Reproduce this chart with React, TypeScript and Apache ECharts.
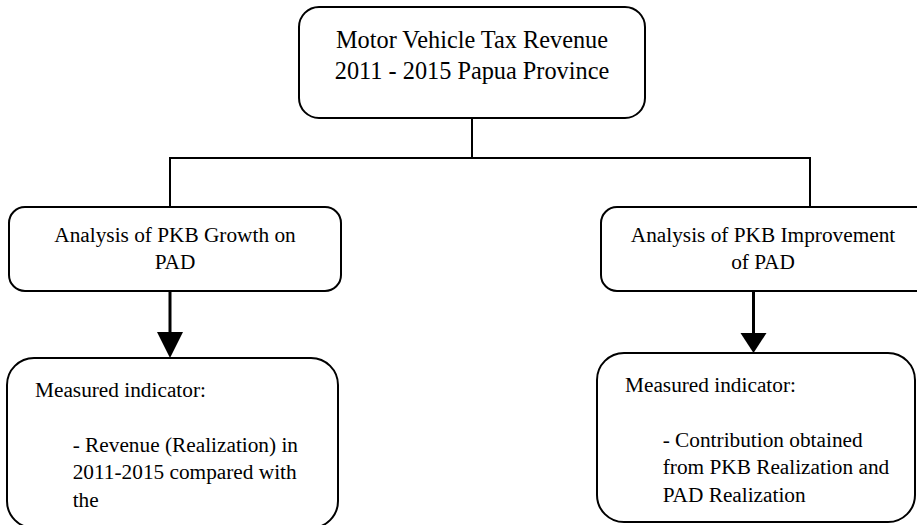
import React, { useEffect, useRef } from "react";
import * as echarts from "echarts";

const titleLines = ["Motor Vehicle Tax Revenue", "2011 - 2015 Papua Province"];
const leftHeadLines = ["Analysis of PKB Growth on", "PAD"];
const rightHeadLines = ["Analysis of PKB Improvement", "of PAD"];
const leftIndicatorLines = [
  "Measured indicator:",
  "",
  "- Revenue (Realization) in",
  "2011-2015 compared with",
  "the",
];
const rightIndicatorLines = [
  "Measured indicator:",
  "",
  "- Contribution obtained",
  "from PKB Realization and",
  "PAD Realization",
];

const FONT = "'Liberation Serif', 'Times New Roman', serif";
const INK = "#000";

function textEl(text: string, x: number, y: number, size: number, align: string) {
  return {
    type: "text",
    x,
    y,
    silent: true,
    style: {
      text,
      fontSize: size,
      fontFamily: FONT,
      fill: INK,
      align,
      verticalAlign: "middle",
      textAlign: align,
      textVerticalAlign: "middle",
    },
  };
}

function box(x: number, y: number, w: number, h: number, r: number) {
  return {
    type: "rect",
    shape: { x, y, width: w, height: h, r },
    style: { fill: "#fff", stroke: INK, lineWidth: 2 },
  };
}

function line(x1: number, y1: number, x2: number, y2: number, lw: number) {
  return {
    type: "line",
    shape: { x1, y1, x2, y2 },
    style: { stroke: INK, lineWidth: lw },
  };
}

export default function App() {
  const ref = useRef<HTMLDivElement>(null);
  useEffect(() => {
    if (!ref.current) return;
    const chart = echarts.init(ref.current, null, { renderer: "svg" });
    const els: any[] = [];
    // boxes
    els.push(box(299, 7, 346, 111, 20));
    els.push(box(9, 207, 332, 84, 16));
    els.push(box(601, 207, 340, 84, 16));
    els.push(box(7, 358, 331, 170, 27));
    els.push(box(597, 353, 318, 169, 27));
    // connectors
    els.push(line(472, 118, 472, 158, 2));
    els.push(line(169, 158, 811, 158, 2));
    els.push(line(170, 157, 170, 207, 2));
    els.push(line(810, 157, 810, 207, 2));
    els.push(line(170, 291, 170, 334, 3));
    els.push(line(753.5, 291, 753.5, 335, 3));
    els.push({
      type: "polygon",
      shape: { points: [[157, 332], [183, 332], [170, 358]] },
      style: { fill: INK },
    });
    els.push({
      type: "polygon",
      shape: { points: [[740.5, 333], [766.5, 333], [753.5, 353]] },
      style: { fill: INK },
    });
    // texts
    titleLines.forEach((t, i) => els.push(textEl(t, 472, 39.7 + i * 30.6, 24.3, "center")));
    leftHeadLines.forEach((t, i) => els.push(textEl(t, 175, 234.5 + i * 27.5, 21.3, "center")));
    rightHeadLines.forEach((t, i) => els.push(textEl(t, 763, 234.5 + i * 27.5, 21.3, "center")));
    leftIndicatorLines.forEach((t, i) => {
      if (t) els.push(textEl(t, i === 0 ? 35 : 72.7, 389.5 + i * 27.5, 21.3, "left"));
    });
    rightIndicatorLines.forEach((t, i) => {
      if (t) els.push(textEl(t, i === 0 ? 625 : 662.7, 384.5 + i * 27.5, 21.3, "left"));
    });
    chart.setOption({
      animation: false,
      backgroundColor: "#fff",
      graphic: { elements: els },
    });
    return () => chart.dispose();
  }, []);
  return (
    <div
      ref={ref}
      style={{ position: "fixed", left: 0, top: 0, width: 917, height: 525 }}
    />
  );
}
